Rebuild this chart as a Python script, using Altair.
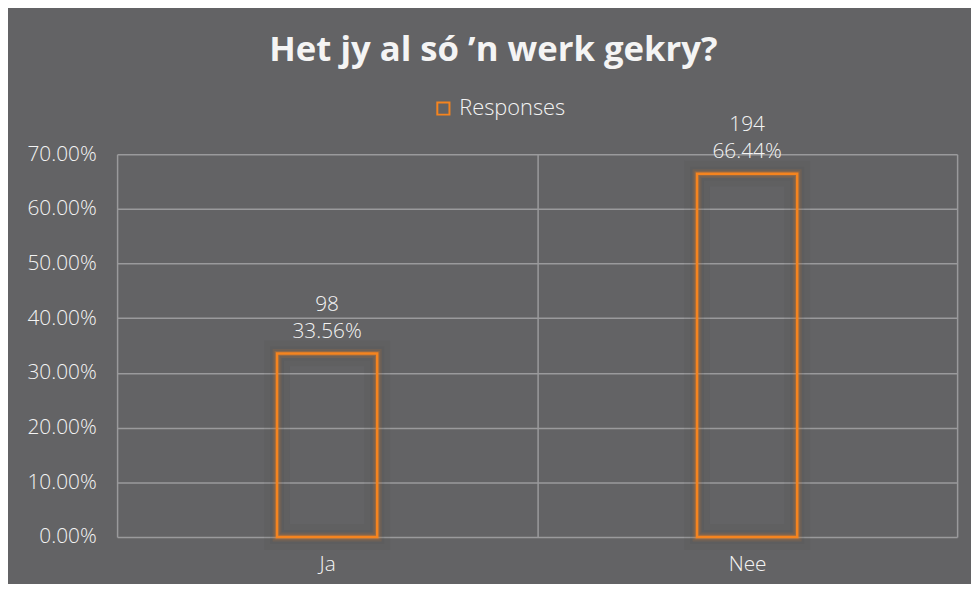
import altair as alt
import pandas as pd

categories = ["Ja", "Nee"]
counts = [98, 194]
shares = [0.3356, 0.6644]
series_name = "Responses"
y_ticks = [0.0, 0.1, 0.2, 0.3, 0.4, 0.5, 0.6, 0.7]
title_text = "Het jy al só ’n werk gekry?"

ORANGE = "#F5841F"
BG = "#636365"
GRID = "#9a9a9c"
TXT = "#F4F4F4"
FONT = "Open Sans"
BAR_W = 101

df = pd.DataFrame({
    "cat": categories,
    "count": counts,
    "share": shares,
    "series": [series_name] * len(categories),
})
df["label"] = [f"{c}\n{s * 100:.2f}%" for c, s in zip(counts, shares)]

x_enc = alt.X(
    "cat:N", sort=categories,
    scale=alt.Scale(paddingInner=0, paddingOuter=0),
    axis=alt.Axis(title=None, labelAngle=0, grid=True, tickBand="extent",
                  gridColor=GRID, gridWidth=1.5, domain=False, ticks=False,
                  labelFont=FONT, labelFontSize=21, labelFontWeight=300,
                  labelColor=TXT, labelPadding=17),
)
y_enc = alt.Y(
    "share:Q",
    scale=alt.Scale(domain=[0, 0.7], nice=False),
    axis=alt.Axis(title=None, values=y_ticks, format=".2%", grid=True,
                  gridColor=GRID, gridWidth=1.5, domain=False, ticks=False,
                  labelFont=FONT, labelFontSize=21, labelFontWeight=300,
                  labelColor=TXT, labelPadding=21),
)

base = alt.Chart(df).encode(x=x_enc, y=y_enc)

shadow1 = base.mark_bar(size=BAR_W, fill="transparent", stroke="#3a3a3c",
                        strokeOpacity=0.07, strokeWidth=26)
shadow2 = base.mark_bar(size=BAR_W, fill="transparent", stroke="#3a3a3c",
                        strokeOpacity=0.08, strokeWidth=14)
glow1 = base.mark_bar(size=BAR_W, fill="transparent", stroke=ORANGE,
                      strokeOpacity=0.12, strokeWidth=9)
glow2 = base.mark_bar(size=BAR_W, fill="transparent", stroke=ORANGE,
                      strokeOpacity=0.25, strokeWidth=5)
main = base.mark_bar(size=BAR_W, fill="transparent", strokeWidth=2.5).encode(
    stroke=alt.Stroke(
        "series:N",
        scale=alt.Scale(domain=[series_name], range=[ORANGE]),
        legend=alt.Legend(
            title=None, orient="none", legendX=318, legendY=-57,
            symbolType="square", symbolSize=150, symbolStrokeWidth=2,
            symbolFillColor="transparent", symbolStrokeColor=ORANGE,
            labelFont=FONT, labelFontSize=22, labelFontWeight=300,
            labelColor=TXT, labelOffset=5, padding=0,
        ),
    )
)
labels = base.mark_text(
    font=FONT, fontSize=21, fontWeight=300, color=TXT, baseline="alphabetic",
    align="center", dy=-43, lineBreak="\n", lineHeight=27,
).encode(text="label:N")

chart = alt.layer(shadow1, shadow2, glow1, glow2, main, labels).properties(
    width=847, height=386,
    autosize=alt.AutoSizeParams(type="none"),
    padding={"left": 110, "top": 145, "right": 14, "bottom": 45},
    background=BG,
    title=alt.TitleParams(title_text, font=FONT, fontSize=35, fontWeight="bold",
                          color=TXT, anchor="middle", frame="group", dx=-44,
                          offset=30),
).configure_view(stroke=None)

chart.save("out.html", embed_options={"renderer": "svg", "actions": False})
